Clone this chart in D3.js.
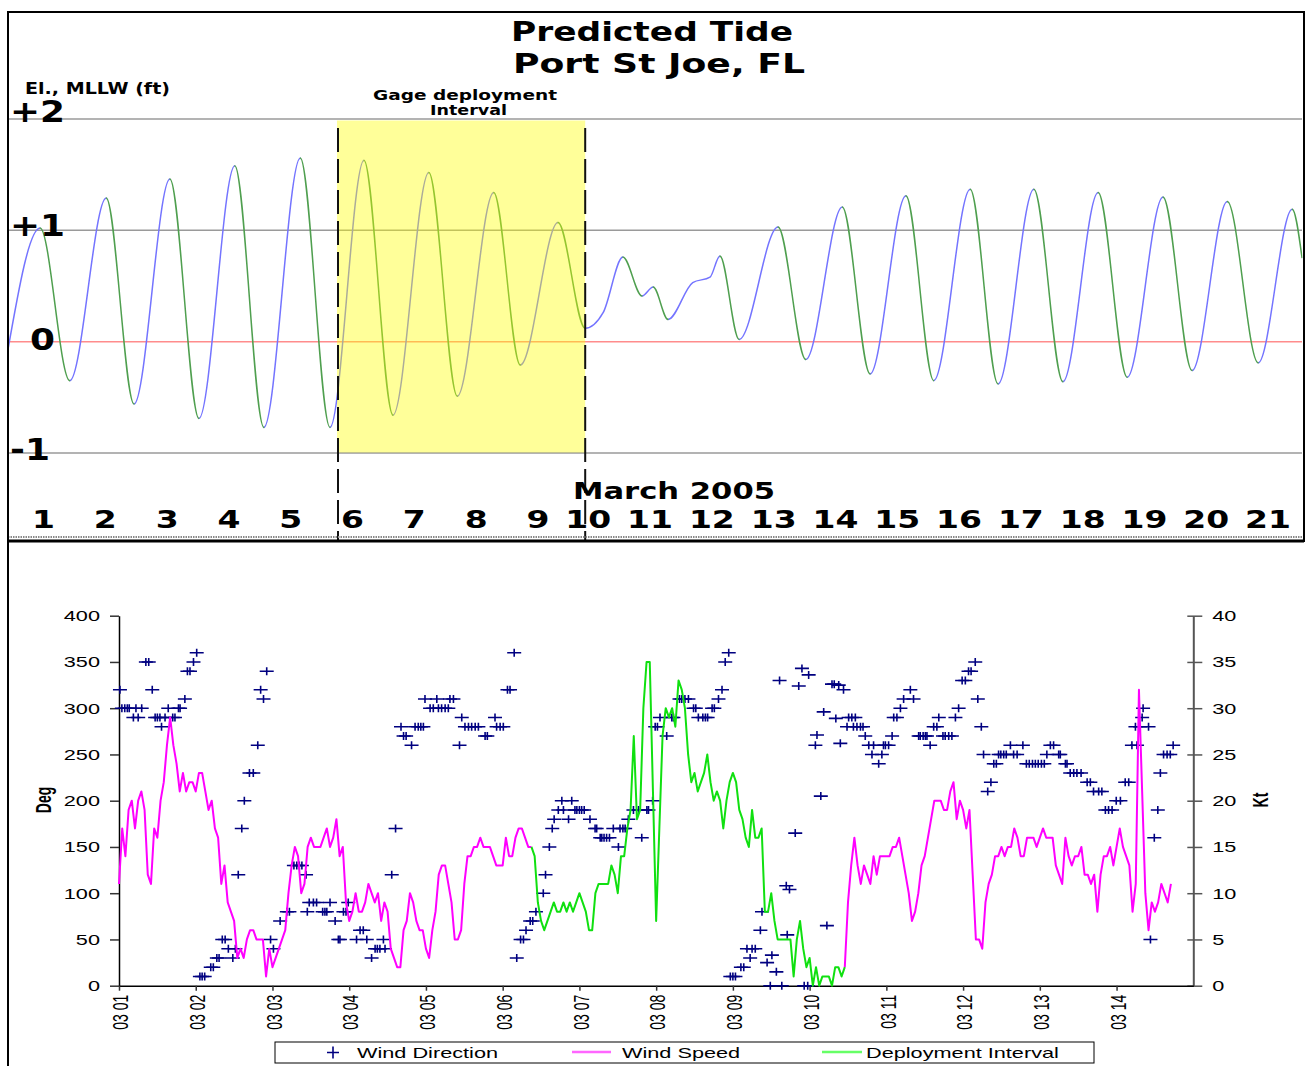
<!DOCTYPE html>
<html><head><meta charset="utf-8">
<script src="https://cdn.jsdelivr.net/npm/d3@7"></script>
<style>body{margin:0;background:#fff}svg{display:block}</style>
</head><body>
<svg id="c" width="1305" height="1066"></svg>
<script>
// ===================== DATA =====================
// Top panel: predicted tide (day of March 2005, elevation ft MLLW) - turning points & shoulders
const tideDays = [0.66,1.18,1.66,2.25,2.70,3.28,3.75,4.33,4.80,5.39,5.87,6.42,6.89,7.47,7.93,8.52,8.95,9.56,10.00,10.29,10.61,10.92,11.10,11.34,11.74,12.02,12.18,12.49,13.12,13.57,14.16,14.61,15.19,15.64,16.23,16.68,17.26,17.73,18.30,18.77,19.35,19.82,20.39,20.89,21.44,21.60];
const tideFt = [-0.07,1.02,-0.35,1.29,-0.56,1.46,-0.69,1.58,-0.77,1.65,-0.77,1.63,-0.66,1.52,-0.49,1.34,-0.21,1.07,0.12,0.26,0.76,0.41,0.49,0.20,0.53,0.58,0.77,0.02,1.03,-0.16,1.21,-0.29,1.31,-0.35,1.37,-0.38,1.37,-0.36,1.34,-0.32,1.30,-0.26,1.26,-0.19,1.19,0.75];
const tideDayTicks = [1,2,3,4,5,6,7,8,9,10,11,12,13,14,15,16,17,18,19,20,21];
const tideGridFt = [2,1,0,-1];
const tideGridLabels = ["+2","+1","0","-1"];
const deployDays = [6,10];

// Bottom panel: wind (hours since 03/01 00:00)
const windDateLabels = ["03 01","03 02","03 03","03 04","03 05","03 06","03 07","03 08","03 09","03 10","03 11","03 12","03 13","03 14"];
const degTicks = [0,50,100,150,200,250,300,350,400];
const ktTicks = [0,5,10,15,20,25,30,35,40];
const deployHours = [129,227];
// hourly wind speed (kt), hour 0 .. 329
const speedKt = [
11,17,14,19,20,17,20,21,19,12, 11,17,16,20,22,26,29,26,24,21,
23,21,22,22,21,23,23,21,19,20, 17,16,11,13,9,8,7,3,4,3,
5,6,6,5,5,5,1,4,2,3, 4,5,6,10,13,15,14,10,11,15,
16,15,15,15,16,17,15,16,18,14, 15,9,7,8,10,8,8,9,11,10,
9,10,7,9,8,4,3,2,2,6, 7,10,9,7,6,6,4,3,6,8,
12,13,13,11,9,5,5,6,11,14, 14,15,15,16,15,15,15,14,13,13,
13,16,14,14,16,17,17,16,15,15, 14,9,7,6,7,8,9,8,8,9,
8,9,8,9,10,9,8,6,6,10, 11,11,11,11,13,12,10,14,14,17,
19,27,18,19,30,35,35,21,7,17, 27,30,29,30,28,33,32,30,25,22,
23,21,22,23,25,22,20,21,20,17, 20,22,23,22,19,18,16,15,19,16,
16,17,8,8,10,7,5,5,5,5, 5,1,5,7,4,2,3,0,2,0,
1,1,1,0,2,2,1,2,9,13, 16,13,11,13,12,11,14,12,14,14,
14,14,15,15,16,14,12,10,7,8, 10,13,14,16,18,20,20,20,19,19,
21,22,18,20,19,17,19,12,5,5, 4,9,11,12,14,14,15,14,15,15,
17,16,14,14,16,16,16,15,16,17, 16,16,16,13,12,11,16,14,13,14,
14,15,12,12,11,12,8,12,14,14, 15,13,15,17,15,14,13,8,11,32,
21,10,6,9,8,9,11,10,9,11];
// wind direction observations
const dirHours = [0.3,0.9,1.8,2.6,3.2,4.5,5.3,6.0,7.1,8.4,9.3,10.4,11.3,12.0,12.8,13.3,14.4,15.4,16.8,17.5,18.6,19.1,20.6,21.4,22.2,23.3,24.3,25.3,26.0,26.8,28.7,29.5,30.6,31.3,32.3,33.2,34.2,35.6,36.4,37.3,38.4,39.2,40.8,42.0,43.4,44.3,45.2,46.2,47.4,48.3,50.4,52.5,53.3,54.7,55.6,56.4,57.2,58.5,58.9,59.5,60.8,61.8,63.7,64.4,65.0,66.0,67.6,68.6,69.1,70.2,71.0,71.7,74.3,75.4,76.4,77.5,79.0,80.1,80.8,81.6,82.7,83.2,85.3,86.5,
88.2,89.0,89.8,91.5,92.6,93.6,94.4,95.2,95.7,97.3,98.3,99.4,99.9,100.9,102.0,103.0,103.5,104.6,106.5,107.2,108.2,109.3,110.3,111.4,112.4,114.5,115.2,117.6,118.1,119.2,120.2,121.5,122.3,123.6,124.4,125.6,126.5,127.3,128.6,129.4,130.4,132.7,133.4,134.6,135.5,136.1,137.4,138.5,139.0,140.6,141.6,142.6,143.2,144.0,144.7,145.5,147.3,148.9,149.4,150.5,151.0,151.7,152.5,153.4,154.6,156.2,156.7,157.6,158.3,159.3,160.9,162.5,163.5,165.1,165.6,166.9,167.7,168.4,169.2,171.3,172.9,173.4,175.3,176.0,177.0,178.1,179.7,180.4,181.2,
182.6,183.4,184.1,185.5,186.2,187.5,188.6,189.6,190.7,191.2,192.0,192.8,194.5,195.4,196.4,197.4,198.0,199.0,200.6,201.1,202.7,203.7,204.2,205.6,206.6,207.3,208.7,209.0,209.7,211.5,212.6,213.6,214.3,215.4,215.7,217.8,218.3,219.5,220.4,221.4,223.0,223.7,224.2,225.1,225.6,226.6,227.7,228.2,229.2,229.7,230.3,230.8,231.9,232.7,233.4,234.5,235.5,236.0,237.6,238.6,239.1,239.7,240.7,241.8,242.3,243.3,244.4,245.4,247.5,248.5,250.1,250.6,251.5,252.2,252.7,253.7,254.8,255.8,256.4,257.7,258.4,259.5,260.5,261.6,262.6,263.7,264.7,265.7,266.5,267.8,268.6,269.7,270.4,271.7,272.7,273.6,274.4,
275.1,275.8,276.7,277.5,278.8,279.8,280.9,282.7,283.8,284.7,285.7,286.6,287.5,288.5,289.4,290.2,291.3,292.3,293.9,294.4,296.0,296.5,297.5,298.6,299.6,300.9,302.8,303.8,304.8,306.4,307.4,308.5,309.5,310.6,311.9,313.2,314.7,315.8,316.8,317.9,318.4,319.4,320.0,320.3,322.0,322.6,323.8,324.9,325.7,326.7,327.8,328.8,329.7];
const dirDeg = [320,300,300,300,300,290,300,290,300,350,350,320,290,290,290,280,290,300,290,290,300,300,310,340,340,350,360,10,10,10,20,20,30,30,50,50,40,30,40,120,170,200,230,230,260,320,310,340,50,40,70,80,80,130,130,130,130,120,80,90,90,90,80,80,80,90,70,50,50,80,80,90,50,60,60,50,30,40,40,40,50,40,120,170,
280,270,270,260,280,280,280,280,310,300,300,310,300,300,300,300,310,310,260,290,280,280,280,280,280,270,270,290,280,280,280,320,320,360,30,50,50,60,70,70,80,100,120,150,170,180,190,200,190,180,200,190,190,190,190,190,180,170,170,160,160,160,160,160,170,150,170,170,170,180,190,190,160,190,190,200,280,280,290,270,290,290,310,310,310,310,300,300,290,
290,290,290,300,300,310,320,350,360,10,10,10,20,20,40,30,40,40,60,80,25,0,33,15,330,0,108,55,104,165,324,343,0,0,336,260,271,205,296,65,326,326,289,325,262,320,280,290,290,280,290,280,280,280,270,260,250,260,240,250,260,260,260,270,290,290,300,310,320,310,270,270,270,270,270,260,280,280,290,270,270,270,270,290,300,330,330,340,340,350,310,280,250,210,220,240,240,
250,250,250,250,260,250,250,260,240,240,240,240,240,240,240,250,260,260,250,250,240,240,230,230,230,230,220,220,210,210,210,190,190,190,200,200,220,220,260,280,260,280,290,300,280,50,160,190,230,250,250,250,260];

// ===================== DRAW =====================
const svg = d3.select('#c');
svg.append('rect').attr('width',1305).attr('height',1066).attr('fill','#fff');
const defs = svg.append('defs');
const BOLD = "'DejaVu Sans', Verdana, sans-serif";
const ARIAL = "'Liberation Sans', Arial, sans-serif";

// ---------- TOP PANEL ----------
const xT = d3.scaleLinear().domain([1,21]).range([29, 29+20*61.8]);
const yT = d3.scaleLinear().domain([-1,2]).range([453,119]);
const topG = svg.append('g');

tideGridFt.forEach(v=>{
  topG.append('line').attr('x1',8).attr('x2',1302).attr('y1',yT(v)).attr('y2',yT(v))
    .attr('stroke', v===0 ? '#ff8c8c' : '#9a9a9a').attr('stroke-width',1.5);
});

const tidePts = tideDays.map((d,i)=>[d,tideFt[i]]);
const cpUp = defs.append('clipPath').attr('id','cpUp');
const cpDn = defs.append('clipPath').attr('id','cpDn');
for(let i=0;i<tidePts.length-1;i++){
  const x0 = xT(tidePts[i][0]), x1 = xT(tidePts[i+1][0]);
  (tidePts[i+1][1] > tidePts[i][1] ? cpUp : cpDn).append('rect')
    .attr('x',x0-0.4).attr('y',0).attr('width',x1-x0+0.8).attr('height',600);
}
const tideLine = d3.line().x(d=>xT(d[0])).y(d=>yT(d[1])).curve(d3.curveMonotoneX);
topG.append('path').attr('d',tideLine(tidePts)).attr('fill','none')
  .attr('stroke','#7474ff').attr('stroke-width',1.5).attr('clip-path','url(#cpUp)');
topG.append('path').attr('d',tideLine(tidePts)).attr('fill','none')
  .attr('stroke','#4f9f4f').attr('stroke-width',1.5).attr('clip-path','url(#cpDn)');

// deployment interval highlight
topG.append('rect').attr('x',xT(deployDays[0])-1).attr('y',yT(2)+1.5)
  .attr('width',xT(deployDays[1])-xT(deployDays[0])+1).attr('height',yT(-1)-yT(2)-2)
  .attr('fill','#ffff00').attr('fill-opacity',0.4);
deployDays.forEach(d=>{
  topG.append('line').attr('x1',xT(d)).attr('x2',xT(d)).attr('y1',128).attr('y2',541)
    .attr('stroke','#111').attr('stroke-width',2).attr('stroke-dasharray','24,7');
});

function tt(str,x,y,size,len,anchor){
  const t = topG.append('text').attr('x',x).attr('y',y).text(str)
    .attr('font-family',BOLD).attr('font-weight','bold').attr('font-size',size)
    .attr('text-anchor',anchor||'start').attr('fill','#000');
  if(len) t.attr('textLength',len).attr('lengthAdjust','spacingAndGlyphs');
  return t;
}
tt('Predicted Tide',652,41,27,282,'middle');
tt('Port St Joe, FL',659,73,27,292,'middle');
tt('El., MLLW (ft)',25,94,16,145);
tt('Gage deployment',373,100,14,184);
tt('Interval',430,115,14,77);
const gridLabelPos = [[10,122,55],[10,236,55],[30,350,25],[10,460,40]];
tideGridLabels.forEach((s,i)=>tt(s,gridLabelPos[i][0],gridLabelPos[i][1],31,gridLabelPos[i][2]));
tt('March 2005',573,499,23,202);
tideDayTicks.forEach(d=>{
  topG.append('text').attr('transform',`translate(${xT(d)+26},528) scale(1.32,1)`)
    .attr('text-anchor','end').attr('font-family',BOLD).attr('font-weight','bold')
    .attr('font-size',25).attr('fill','#000').text(d);
});
// bottom tick bar & frame
topG.append('line').attr('x1',8).attr('x2',1304).attr('y1',537).attr('y2',537)
  .attr('stroke','#888').attr('stroke-width',2).attr('stroke-dasharray','1.5,1');
topG.append('line').attr('x1',8).attr('x2',1304).attr('y1',541).attr('y2',541)
  .attr('stroke','#000').attr('stroke-width',3);
topG.append('rect').attr('x',8).attr('y',12).attr('width',1296).attr('height',529)
  .attr('fill','none').attr('stroke','#000').attr('stroke-width',2);
svg.append('line').attr('x1',8).attr('x2',8).attr('y1',541).attr('y2',1066)
  .attr('stroke','#000').attr('stroke-width',2);

// ---------- BOTTOM PANEL ----------
const SX = 1.55;
const xW = d3.scaleLinear().domain([0,336]).range([119,1193.3]);
const yD = d3.scaleLinear().domain([0,400]).range([985.7,615.7]);
const yK = d3.scaleLinear().domain([0,40]).range([985.7,615.7]);
const bot = svg.append('g');

// left axis
const axL = bot.append('g').attr('transform','translate(119,0)')
  .call(d3.axisLeft(yD).tickValues(degTicks).tickSize(9).tickSizeOuter(0));
axL.select('.domain').attr('stroke','#000').attr('stroke-width',1.5);
axL.selectAll('.tick line').attr('stroke','#333').attr('stroke-width',1.5);
axL.selectAll('.tick text').attr('x',0).attr('dy','0.35em')
  .attr('transform',`translate(-19,0) scale(${SX},1)`)
  .attr('font-size',14).attr('font-family',ARIAL).attr('fill','#000');

// right axis
const axR = bot.append('g').attr('transform','translate(1193.3,0)')
  .call(d3.axisRight(yK).tickValues(ktTicks).tickSize(9).tickSizeOuter(0));
axR.select('.domain').attr('stroke','#555').attr('stroke-width',2);
axR.selectAll('.tick line').attr('x1',-6).attr('x2',9).attr('stroke','#555').attr('stroke-width',1.5);
axR.selectAll('.tick text').attr('x',0).attr('dy','0.35em')
  .attr('transform',`translate(19,0) scale(${SX},1)`)
  .attr('font-size',14).attr('font-family',ARIAL).attr('fill','#000');

// bottom axis
const dayHours = windDateLabels.map((s,i)=>i*24);
const axB = bot.append('g').attr('transform','translate(0,985.7)')
  .call(d3.axisBottom(xW).tickValues(dayHours).tickSize(5).tickSizeOuter(0)
    .tickFormat((d,i)=>windDateLabels[i]));
axB.select('.domain').attr('stroke','#000').attr('stroke-width',1.5);
axB.selectAll('.tick line').attr('stroke','#333').attr('stroke-width',1.5);
axB.selectAll('.tick text').attr('y',0).attr('dy',0).attr('x',0)
  .attr('transform',`translate(1,9) rotate(-90) scale(1,${SX})`)
  .attr('text-anchor','end').attr('dominant-baseline','central')
  .attr('font-size',14).attr('font-family',ARIAL).attr('fill','#000');

// axis titles
bot.append('text').attr('transform',`translate(43,800) rotate(-90) scale(1,${SX})`)
  .attr('text-anchor','middle').attr('dominant-baseline','central')
  .attr('font-family',ARIAL).attr('font-weight','bold').attr('font-size',14).text('Deg');
bot.append('text').attr('transform',`translate(1260,800) rotate(-90) scale(1,${SX})`)
  .attr('text-anchor','middle').attr('dominant-baseline','central')
  .attr('font-family',ARIAL).attr('font-weight','bold').attr('font-size',14).text('Kt');

// wind direction markers
const plus = 'M-7,0H7M0,-4V4';
bot.append('g').selectAll('path').data(dirHours.map((h,i)=>[h,dirDeg[i]])).join('path')
  .attr('transform',d=>`translate(${xW(d[0])},${yD(d[1])})`)
  .attr('d',plus).attr('stroke','#000080').attr('stroke-width',1.6).attr('fill','none');

// wind speed lines
const spd = speedKt.map((v,h)=>[h,v]);
const wl = d3.line().x(d=>xW(d[0])).y(d=>yK(d[1]));
[spd.slice(0,deployHours[0]+1), spd.slice(deployHours[1])].forEach(seg=>{
  bot.append('path').attr('d',wl(seg)).attr('fill','none').attr('stroke','#ff00ff')
    .attr('stroke-width',2).attr('stroke-linejoin','round');
});
bot.append('path').attr('d',wl(spd.slice(deployHours[0],deployHours[1]+1))).attr('fill','none')
  .attr('stroke','#10e010').attr('stroke-width',2).attr('stroke-linejoin','round');

// legend
const lg = bot.append('g');
lg.append('rect').attr('x',275).attr('y',1042).attr('width',819).attr('height',21)
  .attr('fill','#fff').attr('stroke','#000').attr('stroke-width',1);
lg.append('path').attr('transform','translate(333,1052.5)').attr('d','M-6,0H6M0,-6V6')
  .attr('stroke','#000080').attr('stroke-width',1.6);
lg.append('line').attr('x1',572).attr('x2',611).attr('y1',1052).attr('y2',1052)
  .attr('stroke','#ff66ff').attr('stroke-width',2.5);
lg.append('line').attr('x1',822).attr('x2',862).attr('y1',1052).attr('y2',1052)
  .attr('stroke','#66ff66').attr('stroke-width',2.5);
[['Wind Direction',357],['Wind Speed',622],['Deployment Interval',866]].forEach(([s,x])=>{
  lg.append('text').attr('transform',`translate(${x},1058) scale(${SX},1)`)
    .attr('font-family',ARIAL).attr('font-size',14).attr('fill','#000').text(s);
});
</script>
</body></html>
